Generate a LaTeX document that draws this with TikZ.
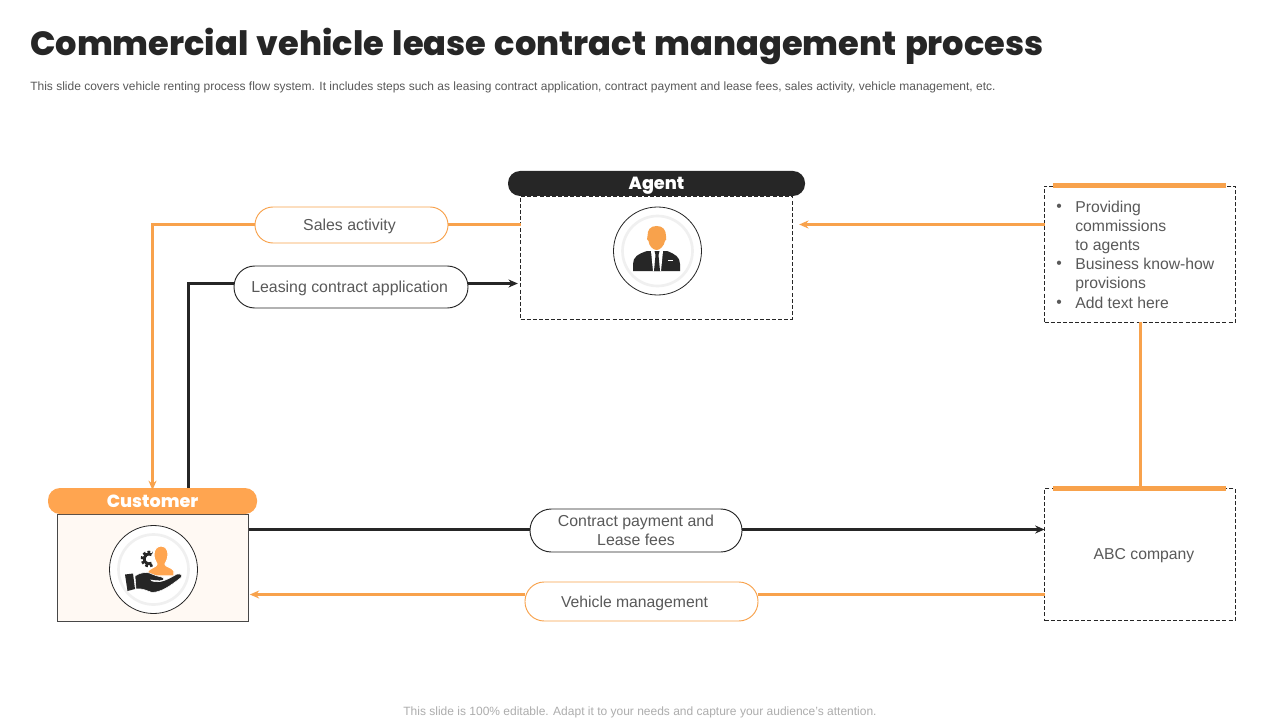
\documentclass[tikz,border=0pt]{standalone}
\usepackage{fontspec}
\setmainfont{Liberation Sans}
\newfontfamily\titlefont{Poppins ExtraBold}[WordSpace=1.32]
\usetikzlibrary{arrows.meta,calc}
\definecolor{ink}{HTML}{262626}
\definecolor{org}{HTML}{F8A24C}
\definecolor{orgh}{HTML}{FFA550}
\definecolor{txt}{HTML}{595959}
\tikzset{
 x=0.75pt,y=-0.75pt,
 wh/.style 2 args={minimum width=#1*0.75pt,minimum height=#2*0.75pt,inner sep=0pt,outer sep=0pt},
 hdr/.style={rectangle,rounded corners=9pt,font=\titlefont\fontsize{13.2}{15}\selectfont,text=white,align=center,text depth=0pt},
 dbox/.style={draw=ink,dash pattern=on 3pt off 1.6pt,line width=0.6pt},
 pill/.style={rectangle,fill=white,font=\fontsize{11.9}{14.3}\selectfont,text=txt,align=center,line width=0.7pt},
 body/.style={inner sep=0pt,font=\fontsize{11.8}{14.3}\selectfont,text=txt},
 olink/.style={draw=org,line width=2.2pt},
 klink/.style={draw=ink,line width=2.2pt},
 tipo/.style={-{Stealth[length=7pt,width=6pt]}},
 bar/.style={fill=org,draw=none},
 ring/.style={fill=white,draw=ink,line width=0.6pt},
 halo/.style={draw=black!6,line width=2pt},
}
\begin{document}
\begin{tikzpicture}
\useasboundingbox (0,0) rectangle (1280,720);
\fill[white] (0,0) rectangle (1280,720);
% texts
\node[anchor=west,inner sep=0pt,font=\titlefont\fontsize{25.2}{30}\selectfont,text=ink] (title) at (30,46.5) {Commercial vehicle lease contract management process};
\node[anchor=west,inner sep=0pt,font=\fontsize{9}{11}\selectfont,text=txt] (sub) at (30,87.5) {This slide covers vehicle renting process flow system. It includes steps such as leasing contract application, contract payment and lease fees, sales activity, vehicle management, etc.};
\node[inner sep=0pt,font=\fontsize{9}{11}\selectfont,text=black!32] (foot) at (640,712) {This slide is 100\% editable. Adapt it to your needs and capture your audience's attention.};
% boxes
\node[dbox,wh={272}{123}] (agentbox) at (656.5,257.5) {};
\node[dbox,wh={191}{136}] (topbox) at (1140,254) {};
\node[dbox,wh={191}{132}] (abc) at (1140,554.5) {};
\node[draw=ink!85,fill=orgh!7,line width=0.7pt,wh={191}{107}] (custbox) at (153,567.5) {};
\node[hdr,fill=ink,wh={297}{25}] (agent) at (656.5,183.5) {Agent};
\node[hdr,fill=orgh,wh={209}{26}] (customer) at (152.5,501) {Customer};
\node[bar,wh={173}{5}] (bar1) at (1139.5,185.5) {};
\node[bar,wh={173}{5}] (bar2) at (1139.5,488.5) {};
% pills
\node[pill,draw=org,rounded corners=13.4pt,text depth=0pt,wh={193}{36}] (sales) at (351.5,225) {Sales activity\hspace*{3pt}};
\node[pill,draw=ink,rounded corners=15.6pt,text depth=0pt,wh={234}{42}] (lease) at (351,287) {Leasing contract application\hspace*{2pt}};
\node[pill,draw=ink,rounded corners=16pt,wh={212}{43}] (pay) at (636,530.5) {Contract payment and\\Lease fees};
\node[pill,draw=org,rounded corners=14.4pt,wh={233}{39}] (veh) at (641.5,601.5) {};
\node[body,text depth=0pt] (vehtext) at (634.5,601.5) {Vehicle management};
% text in boxes
\node[body,text depth=0pt] (abct) at (1144,554.5) {ABC company};
\node[body,anchor=north west,align=left] (l1) at (1075,201) {Providing\\commissions\\to agents\\Business know-how\\provisions\\Add text here};
\node[body] (b1) at (1059,207.5) {•};
\node[body] (b2) at (1059,265) {•};
\node[body] (b3) at (1059,303.5) {•};
% connectors
\coordinate (sy) at (0,224.5);
\draw[olink] (agentbox.west |- sy) -- (sales.east |- sy);
\draw[olink,tipo] (sales.west |- sy) -| (152.5,490) coordinate (ctop);
\coordinate (kstart) at (188.5,488);
\draw[klink] (kstart) |- (lease.west |- 0,283.5);
\draw[klink,tipo,shorten >=2pt] (lease.east |- 0,283.5) -- (agentbox.west |- 0,283.5);
\draw[olink,tipo,shorten >=5pt] (topbox.west |- sy) -- (agentbox.east |- sy);
\coordinate (tb) at (1140.5,322);
\draw[olink] (tb) -- (tb |- bar2.north);
\draw[klink] (custbox.east |- 0,529.5) -- (pay.west |- 0,529.5);
\draw[klink,tipo] (pay.east |- 0,529.5) -- (abc.west |- 0,529.5);
\draw[olink] (abc.west |- 0,594.5) -- (veh.east |- 0,594.5);
\draw[olink,tipo,shorten >=1pt] (veh.west |- 0,594.5) -- (custbox.east |- 0,594.5);
% agent icon
\draw[ring] (657.5,251) circle[radius=44];
\draw[halo] (657.5,251) circle[radius=35];
\fill[ink] (633,271) -- (633,264) .. controls (633,257) and (638,254) .. (647,251) -- (667,251) .. controls (675,254) and (680,257) .. (680,264) -- (680,271) -- cycle;
\fill[white] (651,251) -- (663,251) -- (661,271) -- (653,271) -- cycle;
\fill[ink] (654.5,251) -- (659.5,251) -- (658.5,255) -- (660,271) -- (654,271) -- (655.5,255) -- cycle;
\fill[white] (667.5,259.5) rectangle (672.5,260.5);
\fill[org] (656.7,226) .. controls (663,226) and (666,230) .. (666,236) .. controls (667,238) and (666,241) .. (665,241) .. controls (664,246) and (660,250) .. (656.7,250) .. controls (653,250) and (649,246) .. (648.5,241) .. controls (647,241) and (646.5,238) .. (647.5,236) .. controls (647.5,230) and (650,226) .. (656.7,226) -- cycle;
% customer icon
\draw[ring] (153.5,569.5) circle[radius=44];
\draw[halo] (153.5,569.5) circle[radius=35];
\draw[ink,line width=2.2pt] (149,559) ++(60:5) arc[start angle=60,end angle=300,radius=5];
\draw[ink,line width=2pt,dash pattern=on 2pt off 1.6pt] (149,559) ++(60:7) arc[start angle=60,end angle=300,radius=7];
\fill[orgh,draw=white,line width=0.8pt] (161,546) .. controls (165.5,546) and (168,549.5) .. (168,554) .. controls (168,559) and (166,562) .. (165,564) .. controls (165,567) and (172,567) .. (174,571) -- (174,576) -- (148,576) -- (148,571) .. controls (150,568) and (157,567) .. (157,564) .. controls (155,561) and (154,558) .. (154,554) .. controls (154,549.5) and (157,546) .. (161,546) -- cycle;
\fill[ink] (125,574.5) -- (133,573.5) -- (135,589) -- (127.5,591) -- cycle;
\fill[ink,draw=white,line width=0.4pt] (135,576) .. controls (142,571.5) and (148,571.5) .. (153,574.5) .. controls (158,577) and (164,576.5) .. (164,579) .. controls (164,581.5) and (157,581) .. (151,580) -- (152,581) .. controls (160,583) and (165,581) .. (177,574) .. controls (182,573) and (183,576.5) .. (180.5,578) .. controls (170,586) and (162,592) .. (152,592.5) .. controls (146,590.5) and (142,588) .. (136,589) -- cycle;
\end{tikzpicture}
\end{document}
